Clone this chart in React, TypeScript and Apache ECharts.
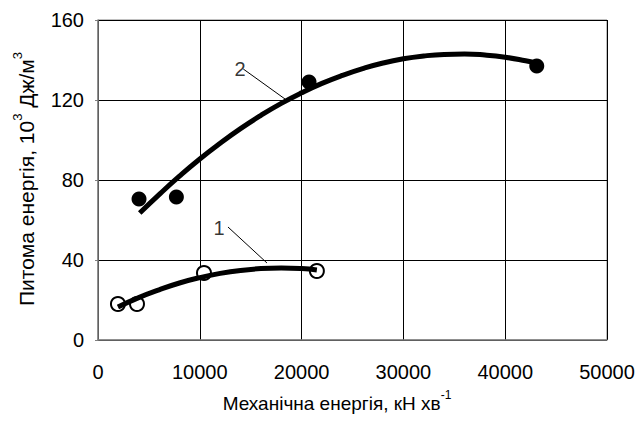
import React, { useEffect, useRef } from "react";
import * as echarts from "echarts";

// Measured points
const openPoints: number[][] = [
  [1960, 18],
  [3830, 18],
  [10410, 33.5],
  [21500, 34.5],
];
const filledPoints: number[][] = [
  [4030, 70.5],
  [7700, 71.5],
  [20730, 129],
  [43100, 137],
];
// Trend curves
const curve1: number[][] = [
  [1960, 16.5], [4000, 21.2], [6000, 25.1], [8000, 28.5], [10000, 31.2],
  [12000, 33.3], [14000, 34.8], [16000, 35.7], [18000, 36.0], [20000, 35.7],
  [21500, 35.0],
];
const curve2: number[][] = [
  [4100, 63.5], [6000, 72.7], [8000, 81.9], [10000, 90.5], [12000, 98.4],
  [14000, 105.7], [16000, 112.3], [18000, 118.3], [20000, 123.6], [22000, 128.3],
  [24000, 132.3], [26000, 135.7], [28000, 138.5], [30000, 140.6], [32000, 142.0],
  [34000, 142.8], [36000, 143.0], [38000, 142.5], [40000, 141.4], [42000, 139.6],
  [43000, 138.5],
];
const leader1: number[][] = [[12770, 56.5], [16600, 38.5]];
const leader2: number[][] = [[14270, 135.5], [18370, 120.5]];
const curveLabels: (number | string)[][] = [
  [11890, 56, "1"],
  [13950, 135.5, "2"],
];
const xTicks = { min: 0, max: 50000, interval: 10000 };
const yTicks = { min: 0, max: 160, interval: 40 };

const FONT = "'Liberation Sans', Arial, sans-serif";

export default function App() {
  const ref = useRef<HTMLDivElement>(null);
  useEffect(() => {
    if (!ref.current) return;
    const chart = echarts.init(ref.current, null, { renderer: "svg" });
    chart.setOption({
      animation: false,
      backgroundColor: "#fff",
      textStyle: { fontFamily: FONT },
      grid: {
        left: 98, right: 31, top: 20, bottom: 83,
        show: true, borderColor: "#808080", borderWidth: 1,
      },
      xAxis: {
        type: "value",
        min: xTicks.min, max: xTicks.max, interval: xTicks.interval,
        axisLine: { show: true, lineStyle: { color: "#808080", width: 1.5 } },
        axisTick: { show: false },
        splitLine: { show: true, lineStyle: { color: "#000", width: 1 } },
        axisLabel: {
          fontSize: 20, color: "#000", fontFamily: FONT, margin: 22,
          formatter: (v: number) => String(v),
        },
      },
      yAxis: {
        type: "value",
        min: yTicks.min, max: yTicks.max, interval: yTicks.interval,
        axisLine: { show: true, lineStyle: { color: "#808080", width: 1.5 } },
        axisTick: { show: true, length: 3, lineStyle: { color: "#808080" } },
        splitLine: { show: true, lineStyle: { color: "#000", width: 1 } },
        axisLabel: {
          fontSize: 20, color: "#000", fontFamily: FONT, margin: 14,
          formatter: (v: number) => String(v),
        },
      },
      graphic: [
        {
          type: "text",
          x: 337, y: 401,
          style: {
            text: "{a|Механічна енергія, кН хв}{s|-1}",
            align: "center", verticalAlign: "middle",
            rich: {
              a: { fontSize: 19, fontFamily: FONT, fill: "#000", verticalAlign: "bottom", lineHeight: 24 },
              s: { fontSize: 12, fontFamily: FONT, fill: "#000", verticalAlign: "top", lineHeight: 24 },
            },
          },
        },
        {
          type: "text",
          x: 24, y: 179,
          rotation: Math.PI / 2,
          style: {
            text: "{a|Питома енергія, 10}{s|3}{a| Дж/м}{s|3}",
            align: "center", verticalAlign: "middle",
            rich: {
              a: { fontSize: 21, fontFamily: FONT, fill: "#000", verticalAlign: "bottom", lineHeight: 26 },
              s: { fontSize: 13, fontFamily: FONT, fill: "#000", verticalAlign: "top", lineHeight: 26 },
            },
          },
        },
      ],
      series: [
        {
          type: "scatter", data: openPoints, symbol: "circle", symbolSize: 14, z: 2,
          itemStyle: { color: "#fff", borderColor: "#000", borderWidth: 2, opacity: 1 },
        },
        {
          type: "scatter", data: filledPoints, symbol: "circle", symbolSize: 15, z: 2,
          itemStyle: { color: "#000", opacity: 1 },
        },
        {
          type: "line", data: curve1, smooth: true, showSymbol: false, symbol: "none", z: 3,
          lineStyle: { color: "#000", width: 5 },
        },
        {
          type: "line", data: curve2, smooth: true, showSymbol: false, symbol: "none", z: 3,
          lineStyle: { color: "#000", width: 5 },
        },
        {
          type: "line", data: leader1, showSymbol: false, symbol: "none", z: 3,
          lineStyle: { color: "#000", width: 1 },
        },
        {
          type: "line", data: leader2, showSymbol: false, symbol: "none", z: 3,
          lineStyle: { color: "#000", width: 1 },
        },
        {
          type: "scatter", data: curveLabels, symbolSize: 1, z: 4,
          itemStyle: { color: "rgba(0,0,0,0)" },
          label: {
            show: true, position: "inside",
            formatter: (p: any) => String(p.value[2]),
            fontSize: 20, color: "#000", fontFamily: FONT,
          },
        },
      ],
    });
    return () => chart.dispose();
  }, []);
  return (
    <div
      ref={ref}
      style={{ position: "fixed", left: 0, top: 0, width: 638, height: 423 }}
    />
  );
}
